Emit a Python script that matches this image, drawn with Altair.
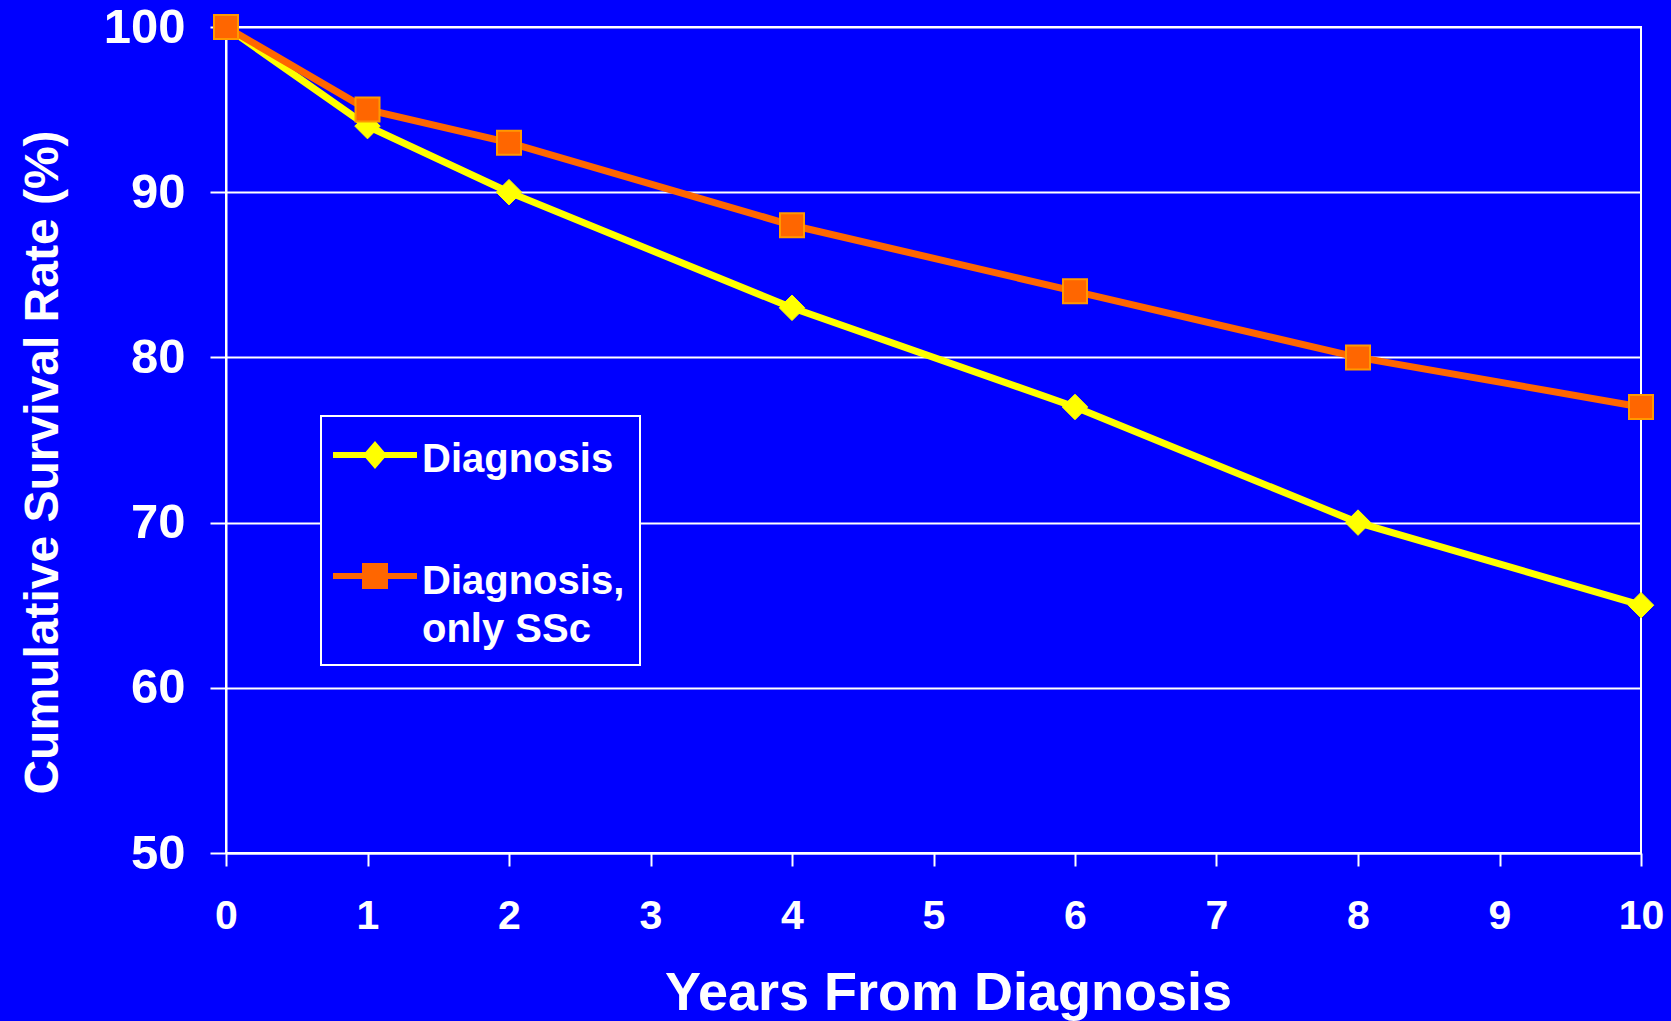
import altair as alt
import pandas as pd

# Cumulative survival (%) by years from diagnosis
years = [0, 1, 2, 4, 6, 8, 10]
diagnosis = [100, 94, 90, 83, 77, 70, 65]
diagnosis_ssc = [100, 95, 93, 88, 84, 80, 77]
series_names = ["Diagnosis", "Diagnosis, only SSc"]

x_ticks = list(range(0, 11))
y_ticks = [50, 60, 70, 80, 90, 100]

BLUE = "#0000FF"
YELLOW = "#FFFF00"
ORANGE = "#FF6600"
ORANGE_EDGE = "#FF9900"
FONT = "Liberation Sans"

df = pd.DataFrame({
    "year": years + years,
    "rate": diagnosis + diagnosis_ssc,
    "series": [series_names[0]] * len(years) + [series_names[1]] * len(years),
})

# Legend glyphs: a short line with its marker on it (1 unit = 41 px at symbolSize 6724),
# raised so the marker sits on the first line of the label.
DIAMOND_GLYPH = (
    "M -1.0244 -0.4878 L -0.23 -0.4878 L 0 -0.7561 L 0.23 -0.4878 L 1.0244 -0.4878 "
    "L 1.0244 -0.3414 L 0.23 -0.3414 L 0 -0.0731 L -0.23 -0.3414 L -1.0244 -0.3414 Z"
)
SQUARE_GLYPH = (
    "M -1.0244 -0.5122 L -0.3171 -0.5122 L -0.3171 -0.7561 L 0.3171 -0.7561 L 0.3171 -0.5122 "
    "L 1.0244 -0.5122 L 1.0244 -0.3658 L 0.3171 -0.3658 L 0.3171 -0.1219 L -0.3171 -0.1219 "
    "L -0.3171 -0.3658 L -1.0244 -0.3658 Z"
)

x_enc = alt.X(
    "year:Q",
    scale=alt.Scale(domain=[0, 10], nice=False, zero=False),
    axis=alt.Axis(
        values=x_ticks, format="d", grid=False,
        domainColor="white", domainWidth=2,
        tickColor="white", tickWidth=2, tickSize=13,
        labelColor="white", labelFont=FONT, labelFontWeight="bold", labelFontSize=41,
        labelBaseline="alphabetic", labelPadding=62, labelFlush=False, labelOverlap=False,
        title="Years From Diagnosis", titleColor="white", titleFont=FONT,
        titleFontWeight="bold", titleFontSize=54, titleAlign="center",
        titleBaseline="alphabetic", titleX=722, titleY=156,
    ),
)
y_enc = alt.Y(
    "rate:Q",
    scale=alt.Scale(domain=[50, 100], nice=False, zero=False),
    axis=alt.Axis(
        values=y_ticks, grid=True, gridColor="white", gridWidth=2,
        domainColor="white", domainWidth=2,
        tickColor="white", tickWidth=2, tickSize=16,
        labelColor="white", labelFont=FONT, labelFontWeight="bold", labelFontSize=49,
        labelPadding=25, labelFlush=False, labelOverlap=False,
        title="Cumulative Survival Rate (%)", titleColor="white", titleFont=FONT,
        titleFontWeight="bold", titleFontSize=48, titleAngle=270, titleAlign="center",
        titleBaseline="middle", titleX=-183, titleY=435,
    ),
)

base = alt.Chart(df).encode(x=x_enc, y=y_enc)

legend = alt.Legend(
    title=None, orient="none", legendX=95, legendY=389,
    padding=15, fillColor=BLUE, strokeColor="white",
    labelColor="white", labelFont=FONT, labelFontWeight="bold", labelFontSize=40,
    labelBaseline="alphabetic", labelLimit=600, labelOffset=6,
    labelExpr="split(replace(datum.label, ', ', ',|'), '|')",
    symbolSize=6724, symbolStrokeWidth=0, symbolOffset=-2, rowPadding=73,
)

# Key layer: carries the legend; its own glyphs are tiny and sit under the markers.
key_layer = base.mark_point(filled=True, opacity=1, size=4, strokeWidth=0).encode(
    color=alt.Color("series:N", scale=alt.Scale(domain=series_names, range=[YELLOW, ORANGE]), legend=legend),
    shape=alt.Shape("series:N", scale=alt.Scale(domain=series_names, range=[DIAMOND_GLYPH, SQUARE_GLYPH]), legend=legend),
)

first = base.transform_filter(alt.datum.series == series_names[0])
second = base.transform_filter(alt.datum.series == series_names[1])

first_line = first.mark_line(color=YELLOW, strokeWidth=7)
first_pts = first.mark_point(shape="diamond", filled=True, fill=YELLOW, stroke=YELLOW,
                             strokeWidth=1, size=650, opacity=1)
second_line = second.mark_line(color=ORANGE, strokeWidth=7)
second_pts = second.mark_point(shape="square", filled=True, fill=ORANGE, stroke=ORANGE_EDGE,
                               strokeWidth=2, size=576, opacity=1)

chart = (
    alt.layer(key_layer, first_line, first_pts, second_line, second_pts)
    .properties(
        width=1415, height=826,
        padding={"left": 226, "top": 27, "right": 30, "bottom": 168},
        autosize=alt.AutoSizeParams(type="none"),
    )
    .configure(background=BLUE, font=FONT, style={"guide-label": {"lineHeight": 48}})
    .configure_view(stroke="white", strokeWidth=2)
    .configure_legend(strokeWidth=2)
)

chart.save("out.html", embed_options={"renderer": "svg", "actions": False})
